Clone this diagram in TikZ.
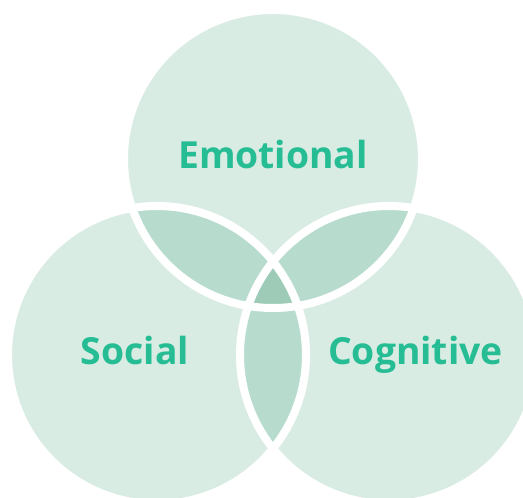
\documentclass[tikz,border=0pt]{standalone}
\usepackage{fontspec}
\setmainfont{Open Sans}
\definecolor{lightg}{HTML}{D9ECE3}
\definecolor{midg}{HTML}{B7DCCE}
\definecolor{darkg}{HTML}{9DCBB8}
\definecolor{textg}{HTML}{26BD94}
\tikzset{
  lbl/.style={text=textg, font=\bfseries\fontsize{37.3}{42}\selectfont, anchor=base, inner sep=0pt},
  ring/.style={draw=white, line width=8pt}
}
\begin{document}
\begin{tikzpicture}[x=1pt,y=-1pt]
\useasboundingbox (0,0) rectangle (523,498);
\begin{scope}
\clip (0,0) rectangle (523,498);
\coordinate (T) at (273,159);
\coordinate (L) at (157,355);
\coordinate (R) at (389,355);
\def\rr{149}
% base fills
\fill[lightg] (T) circle (\rr);
\fill[lightg] (L) circle (\rr);
\fill[lightg] (R) circle (\rr);
% pairwise overlaps
\begin{scope}\clip (T) circle (\rr); \fill[midg] (L) circle (\rr); \fill[midg] (R) circle (\rr);\end{scope}
\begin{scope}\clip (L) circle (\rr); \fill[midg] (R) circle (\rr);\end{scope}
% triple overlap
\begin{scope}\clip (T) circle (\rr); \clip (L) circle (\rr); \fill[darkg] (R) circle (\rr);\end{scope}
% white rings
\draw[ring] (T) circle (\rr);
\draw[ring] (L) circle (\rr);
\draw[ring] (R) circle (\rr);
\end{scope}
\node[lbl] (emo) at (273,168) {Emotional};
\node[lbl] (soc) at (135,364) {Social};
\node[lbl] (cog) at (415.5,364) {Cognitive};
\end{tikzpicture}
\end{document}
